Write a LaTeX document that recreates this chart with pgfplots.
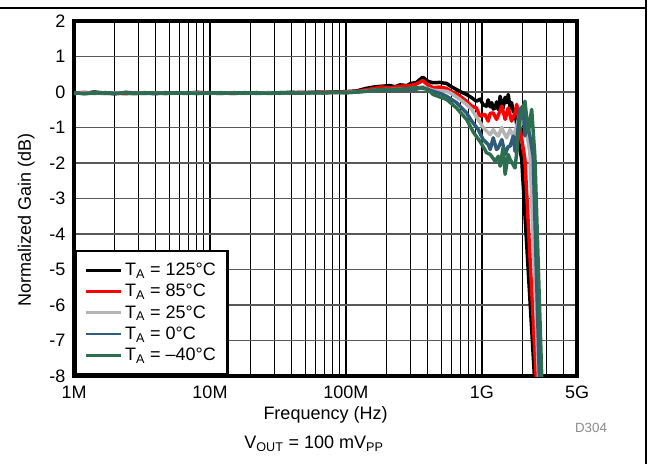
\documentclass[border=0pt]{standalone}
\usepackage{fontspec}
\setmainfont{Liberation Sans}
\usepackage{pgfplots}
\pgfplotsset{compat=1.18}
\definecolor{cBlue}{RGB}{47,92,122}
\definecolor{cGreen}{RGB}{46,110,80}
\definecolor{cGray}{RGB}{180,180,180}
\definecolor{cRed}{RGB}{255,0,0}
\begin{document}
\begin{tikzpicture}[x=0.75pt,y=0.75pt]
\useasboundingbox (0,0) rectangle (648,464);
\draw[line width=1.1pt] (0,456) -- (646,456);
\draw[line width=1.1pt] (646,464) -- (646,0);
\begin{axis}[
  at={(55.5pt,66pt)}, anchor=south west,
  scale only axis, width=377.25pt, height=266.25pt,
  xmode=log, xmin=1e6, xmax=5e9, ymin=-8, ymax=2,
  xtick={1e6,1e7,1e8,1e9,5e9},
  xticklabels={1M,10M,100M,1G,5G},
  minor xtick={2e6,3e6,4e6,5e6,6e6,7e6,8e6,9e6,2e7,3e7,4e7,5e7,6e7,7e7,8e7,9e7,2e8,3e8,4e8,5e8,6e8,7e8,8e8,9e8,2e9,3e9,4e9},
  ytick={-8,-7,-6,-5,-4,-3,-2,-1,0,1,2},
  yticklabels={-8,-7,-6,-5,-4,-3,-2,-1,0,1,2},
  major tick length=0pt, minor tick length=0pt,
  xmajorgrids, xminorgrids, ymajorgrids,
  x grid style={black, line width=0.8pt},
  minor x grid style={black, line width=0.8pt},
  y grid style={black!65, line width=0.9pt},
  axis line style={line width=2.4pt},
  tick label style={font=\fontsize{13.5}{15}\selectfont},
  xticklabel style={yshift=-4pt},
  yticklabel style={xshift=-3pt},
  /pgf/number format/assume math mode=true,
  xlabel={Frequency (Hz)},
  ylabel={Normalized Gain (dB)},
  label style={font=\fontsize{13.5}{15}\selectfont},
  xlabel style={at={(axis description cs:0.5,-0.11)}, anchor=center},
  ylabel style={at={(axis description cs:-0.095,0.44)}, anchor=center},
  legend style={at={(0,0)}, anchor=south west, draw=black, line width=2.2pt,
    font=\fontsize{13.5}{15}\selectfont, inner xsep=7pt, inner ysep=7pt,
    row sep=1pt, fill=white,
    /tikz/every even column/.append style={column sep=5pt}},
  legend cell align=left,
  legend image code/.code={\draw[#1, line width=2.2pt] (0pt,0pt) -- (26pt,0pt);},
  every axis plot/.append style={line width=2.6pt, line join=round},
]
\addplot[black] coordinates {
(1e6,-0.02)(1.2e6,-0.04)(1.4e6,0.0)(1.7e6,-0.03)(2e6,-0.05)(2.4e6,-0.01)(2.8e6,-0.03)(3.3e6,-0.04)(4e6,-0.02)(4.7e6,-0.04)(5.6e6,-0.02)(6.8e6,-0.03)(8e6,-0.01)(1e7,-0.03)(1.2e7,-0.04)(1.5e7,-0.02)(1.8e7,-0.03)(2.2e7,-0.02)(2.7e7,-0.03)(3.3e7,-0.02)(3.9e7,-0.01)(4.7e7,-0.02)(5.6e7,-0.01)(6.8e7,0.0)(8.2e7,0.0)(1e8,0.01)(1.2e8,0.03)
(1.4e8,0.1)(1.6e8,0.14)(1.8e8,0.16)(2.1e8,0.18)(2.3e8,0.15)(2.5e8,0.2)(2.8e8,0.18)(3.0e8,0.24)(3.3e8,0.27)(3.67e8,0.42)(4.0e8,0.3)(4.37e8,0.26)(4.9e8,0.27)(5.5e8,0.24)(6e8,0.14)(6.5e8,0.07)(7e8,0.0)(7.7e8,-0.07)(8.4e8,-0.16)(9.1e8,-0.26)(9.7e8,-0.2)(1.02e9,-0.36)(1.08e9,-0.4)(1.11e9,-0.22)(1.15e9,-0.42)(1.18e9,-0.3)(1.21e9,-0.48)(1.25e9,-0.45)(1.28e9,-0.28)(1.32e9,-0.5)(1.36e9,-0.12)(1.40e9,-0.35)(1.43e9,-0.45)(1.48e9,-0.15)(1.52e9,-0.3)(1.56e9,-0.07)(1.61e9,-0.45)(1.65e9,-0.3)(1.70e9,-0.55)(1.75e9,-0.6)(1.80e9,-0.9)(1.84e9,-1.3)(1.96e9,-1.9)(2.43e9,-8.0)(2.45e9,-8.3)
};
\addlegendentry{T\textsubscript{A} = 125°C}
\addplot[cRed] coordinates {
(1e6,-0.03)(1.2e6,-0.01)(1.4e6,-0.04)(1.7e6,-0.02)(2e6,-0.03)(2.4e6,-0.05)(2.8e6,-0.02)(3.3e6,-0.03)(4e6,-0.04)(4.7e6,-0.02)(5.6e6,-0.03)(6.8e6,-0.04)(8e6,-0.02)(1e7,-0.02)(1.2e7,-0.03)(1.5e7,-0.04)(1.8e7,-0.02)(2.2e7,-0.03)(2.7e7,-0.02)(3.3e7,-0.03)(3.9e7,-0.02)(4.7e7,-0.01)(5.6e7,-0.02)(6.8e7,0.0)(8.2e7,-0.01)(1e8,0.0)(1.2e8,0.02)
(1.4e8,0.06)(1.6e8,0.1)(1.8e8,0.14)(2.1e8,0.12)(2.5e8,0.16)(2.96e8,0.18)(3.27e8,0.22)(3.67e8,0.32)(4.0e8,0.2)(4.37e8,0.12)(4.9e8,0.14)(5.5e8,0.1)(6e8,0.0)(6.5e8,-0.05)(6.9e8,-0.12)(7.7e8,-0.26)(8.4e8,-0.4)(9.1e8,-0.45)(9.66e8,-0.68)(1.05e9,-0.63)(1.11e9,-0.82)(1.15e9,-0.6)(1.21e9,-0.59)(1.28e9,-0.77)(1.32e9,-0.65)(1.40e9,-0.4)(1.48e9,-0.77)(1.56e9,-0.45)(1.65e9,-0.82)(1.75e9,-0.59)(1.80e9,-0.35)(1.84e9,-0.6)(1.90e9,-1.0)(2.07e9,-1.9)(2.50e9,-8.0)(2.52e9,-8.3)
};
\addlegendentry{T\textsubscript{A} = 85°C}
\addplot[cGray] coordinates {
(1e6,-0.04)(1.2e6,-0.02)(1.4e6,-0.03)(1.7e6,-0.05)(2e6,-0.02)(2.4e6,-0.03)(2.8e6,-0.04)(3.3e6,-0.02)(4e6,-0.03)(4.7e6,-0.03)(5.6e6,-0.04)(6.8e6,-0.02)(8e6,-0.03)(1e7,-0.04)(1.2e7,-0.02)(1.5e7,-0.03)(1.8e7,-0.04)(2.2e7,-0.03)(2.7e7,-0.02)(3.3e7,-0.04)(3.9e7,-0.03)(4.7e7,-0.02)(5.6e7,-0.03)(6.8e7,-0.01)(8.2e7,-0.02)(1e8,-0.01)(1.2e8,0.0)
(1.4e8,0.03)(1.8e8,0.06)(2.5e8,0.08)(3.27e8,0.1)(3.67e8,0.15)(4.37e8,0.05)(5.5e8,0.02)(6e8,-0.05)(6.9e8,-0.21)(7.7e8,-0.35)(8.4e8,-0.49)(9.1e8,-0.7)(9.66e8,-0.85)(1.02e9,-1.0)(1.08e9,-1.1)(1.15e9,-1.2)(1.21e9,-1.06)(1.25e9,-1.15)(1.32e9,-1.24)(1.40e9,-1.0)(1.43e9,-1.1)(1.52e9,-1.29)(1.61e9,-1.06)(1.70e9,-1.24)(1.80e9,-0.96)(1.90e9,-0.6)(1.96e9,-0.9)(2.07e9,-0.6)(2.13e9,-1.15)(2.25e9,-1.7)(2.60e9,-8.0)(2.62e9,-8.3)
};
\addlegendentry{T\textsubscript{A} = 25°C}
\addplot[cBlue] coordinates {
(1e6,-0.03)(1.2e6,-0.04)(1.4e6,-0.02)(1.7e6,-0.03)(2e6,-0.04)(2.4e6,-0.02)(2.8e6,-0.03)(3.3e6,-0.03)(4e6,-0.05)(4.7e6,-0.02)(5.6e6,-0.03)(6.8e6,-0.03)(8e6,-0.04)(1e7,-0.02)(1.2e7,-0.03)(1.5e7,-0.03)(1.8e7,-0.02)(2.2e7,-0.04)(2.7e7,-0.03)(3.3e7,-0.02)(3.9e7,-0.03)(4.7e7,-0.03)(5.6e7,-0.02)(6.8e7,-0.02)(8.2e7,-0.01)(1e8,-0.02)(1.2e8,0.0)
(1.4e8,0.02)(1.8e8,0.05)(2.5e8,0.06)(3.27e8,0.08)(3.67e8,0.12)(4.37e8,0.02)(5.0e8,-0.05)(5.5e8,-0.12)(6.5e8,-0.3)(7.7e8,-0.59)(8.4e8,-0.82)(9.4e8,-1.06)(1.02e9,-1.34)(1.11e9,-1.48)(1.15e9,-1.62)(1.21e9,-1.29)(1.28e9,-1.62)(1.32e9,-1.57)(1.40e9,-1.34)(1.48e9,-1.76)(1.56e9,-1.53)(1.61e9,-1.53)(1.70e9,-1.24)(1.75e9,-1.67)(1.80e9,-1.39)(1.90e9,-0.49)(2.01e9,-0.4)(2.07e9,-1.24)(2.13e9,-0.8)(2.25e9,-1.24)(2.38e9,-1.81)(2.64e9,-8.0)(2.66e9,-8.3)
};
\addlegendentry{T\textsubscript{A} = 0°C}
\addplot[cGreen] coordinates {
(1e6,-0.02)(1.2e6,-0.05)(1.4e6,-0.03)(1.7e6,-0.02)(2e6,-0.04)(2.4e6,-0.03)(2.8e6,-0.05)(3.3e6,-0.02)(4e6,-0.03)(4.7e6,-0.04)(5.6e6,-0.03)(6.8e6,-0.02)(8e6,-0.04)(1e7,-0.03)(1.2e7,-0.02)(1.5e7,-0.04)(1.8e7,-0.03)(2.2e7,-0.02)(2.7e7,-0.04)(3.3e7,-0.03)(3.9e7,-0.02)(4.7e7,-0.03)(5.6e7,-0.02)(6.8e7,-0.03)(8.2e7,-0.01)(1e8,-0.02)(1.2e8,0.0)
(1.4e8,0.02)(1.78e8,0.07)(2.5e8,0.08)(3.27e8,0.12)(3.67e8,0.1)(4.0e8,0.08)(4.37e8,-0.07)(5.5e8,-0.21)(6.5e8,-0.45)(7.7e8,-0.77)(8.7e8,-1.15)(9.66e8,-1.39)(1.05e9,-1.62)(1.08e9,-1.71)(1.15e9,-1.76)(1.25e9,-1.95)(1.32e9,-1.81)(1.36e9,-2.09)(1.43e9,-1.57)(1.48e9,-2.32)(1.56e9,-1.76)(1.61e9,-1.9)(1.75e9,-2.14)(1.80e9,-1.71)(1.90e9,-0.8)(1.96e9,-0.59)(2.07e9,-0.26)(2.19e9,-1.15)(2.32e9,-0.49)(2.45e9,-1.81)(2.75e9,-8.0)(2.77e9,-8.3)
};
\addlegendentry{T\textsubscript{A} = –40°C}
\end{axis}
\node[font=\fontsize{10}{12}\selectfont, text=black!45] at (591,36) {D304};
\node[font=\fontsize{13.5}{15}\selectfont] at (314,20) {V\textsubscript{OUT} = 100 mV\textsubscript{PP}};
\end{tikzpicture}
\end{document}
